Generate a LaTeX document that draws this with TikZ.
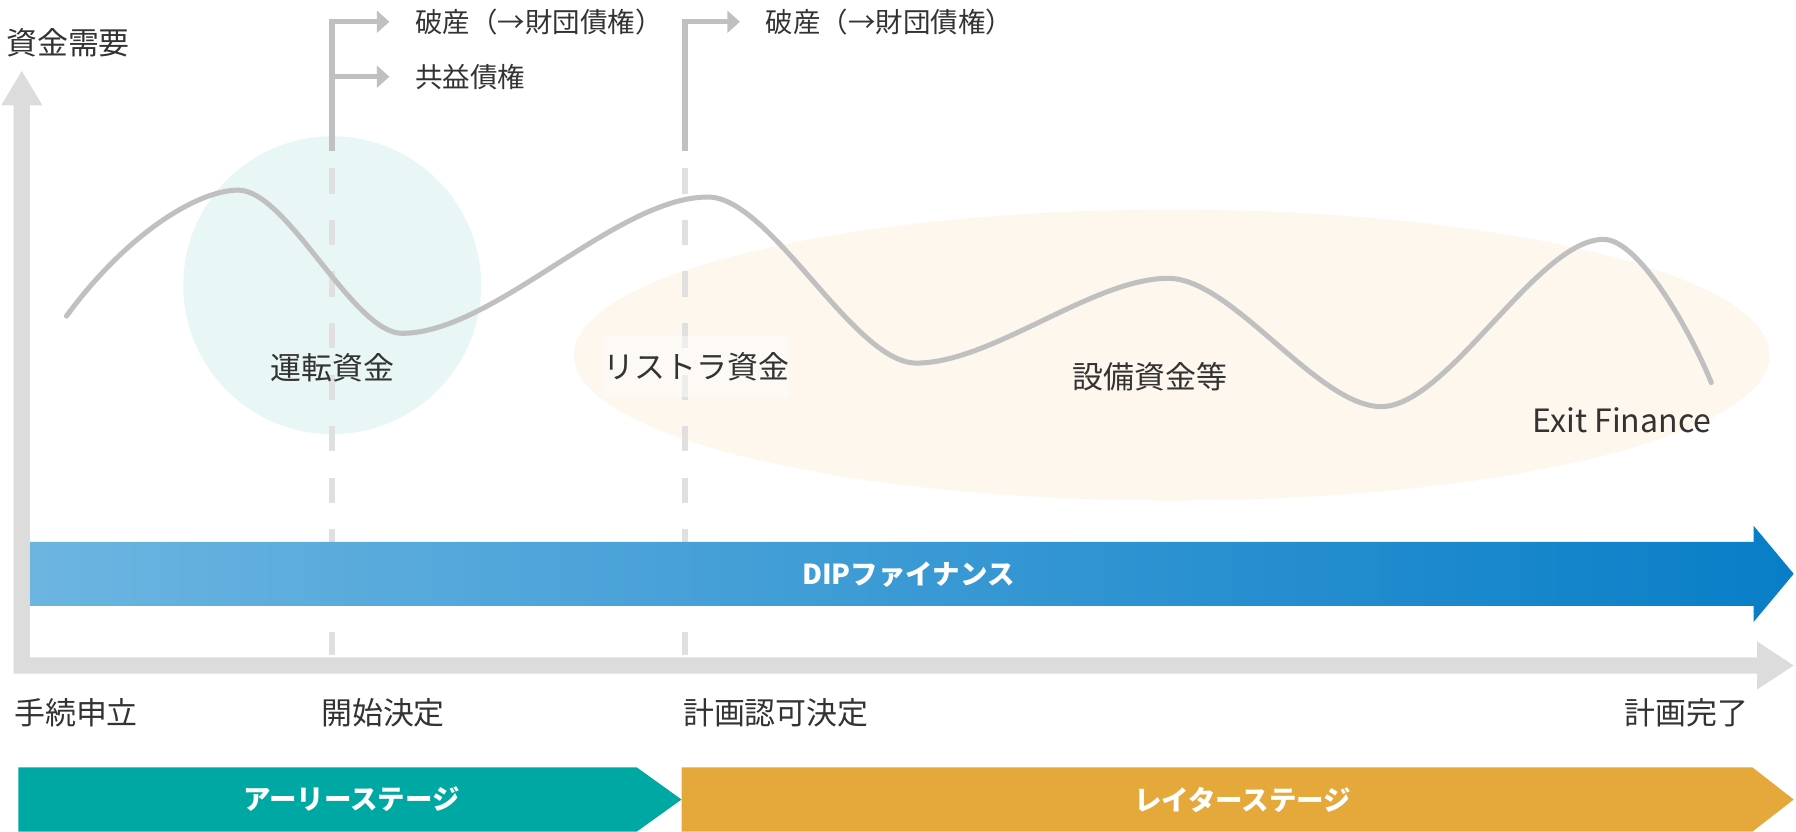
\documentclass[tikz,border=0pt]{standalone}
\usepackage{fontspec}
\setmainfont{Noto Sans CJK JP}
\usepackage{tikz}
\usetikzlibrary{arrows.meta}
\definecolor{axisGray}{RGB}{220,220,220}
\definecolor{lineGray}{RGB}{192,192,192}
\definecolor{dashGray}{RGB}{224,224,224}
\definecolor{txtGray}{RGB}{51,51,51}
\definecolor{circleTeal}{RGB}{232,246,245}
\definecolor{ovalCream}{RGB}{253,247,237}
\definecolor{dipLeft}{RGB}{108,181,225}
\definecolor{dipRight}{RGB}{8,126,199}
\definecolor{earlyTeal}{RGB}{0,168,164}
\definecolor{lateOrange}{RGB}{229,168,59}
\tikzset{
  lbl/.style={text=txtGray, font=\fontsize{13.5}{16}\selectfont, inner sep=0pt},
  branchlbl/.style={text=txtGray, font=\fontsize{12}{14}\selectfont, anchor=west, inner sep=0pt},
  bartxt/.style={text=white, font=\bfseries\fontsize{12}{14}\selectfont},
  branch/.style={lineGray, line width=2.35pt, shorten >=11pt, -{Triangle[width=9.5pt,length=5.5pt]}},
  guide/.style={dashGray, line width=2.4pt, dash pattern=on 11pt off 11.5pt},
}

\begin{document}
\begin{tikzpicture}[x=0.5pt,y=-0.5pt]
\useasboundingbox (0,0) rectangle (1568,726);
\fill[circleTeal] (290,249) circle (130);
\fill[ovalCream] (1023,310) ellipse (522 and 127);

\draw[guide] (290,147) -- (290,572);
\draw[guide] (598,147) -- (598,572);

\draw[lineGray, line width=2.2pt, line cap=round]
  (58,276) .. controls (110,205) and (172,166) .. (208,166)
  .. controls (251,166) and (308,291) .. (351,291)
  .. controls (431,291) and (538,172) .. (618,172)
  .. controls (673,172) and (745,317) .. (800,317)
  .. controls (866,317) and (954,243) .. (1020,243)
  .. controls (1076,243) and (1150,355) .. (1206,355)
  .. controls (1264,355) and (1342,209) .. (1400,209)
  .. controls (1432,209) and (1478,294) .. (1494,334);

\coordinate (v1) at (290,132);
\coordinate (v1m) at (290,67);
\coordinate (v2) at (598,132);
\node[branchlbl] (bank1) at (362,19) {破産（→財団債権）};
\node[branchlbl] (common) at (362,67) {共益債権};
\node[branchlbl] (bank2) at (668,19) {破産（→財団債権）};
\draw[branch] (v1) |- (bank1);
\draw[branch] (v1m) -- (common);
\draw[branch] (v2) |- (bank2);

\node[lbl] (working) at (290,321) {運転資金};
\node[lbl, fill=white, fill opacity=0.45, text opacity=1, minimum height=27pt] (restr) at (608,320) {リストラ資金};
\node[lbl] (equip) at (1004,329) {設備資金等};
\node[lbl, font=\fontsize{14}{16}\selectfont] (exitfin) at (1416,367) {Exit Finance};

\shade[left color=dipLeft, right color=dipRight] (26,473) -- (1531,473) -- (1531,459) -- (1566,501)
  -- (1531,543) -- (1531,529) -- (26,529) -- cycle;
\node[bartxt] (dip) at (793,502) {DIPファイナンス};

\fill[axisGray] (12,588) -- (12,92) -- (1,92) -- (19,62) -- (37,92) -- (26,92) -- (26,574)
  -- (1534,574) -- (1534,560) -- (1566,581) -- (1534,602) -- (1534,588) -- cycle;
\node[lbl, anchor=west] (demand) at (5,37) {資金需要};

\node[lbl, anchor=west] (filing) at (12,622) {手続申立};
\node[lbl, anchor=west] (commence) at (280,622) {開始決定};
\node[lbl, anchor=west] (confirm) at (596,622) {計画認可決定};
\node[lbl, anchor=east] (complete) at (1527,622) {計画完了};

\fill[earlyTeal] (16,670) -- (556,670) -- (595,698) -- (556,726) -- (16,726) -- cycle;
\fill[lateOrange] (595,670) -- (1530,670) -- (1566,698) -- (1530,726) -- (595,726) -- cycle;
\node[bartxt] (early) at (307,698) {アーリーステージ};
\node[bartxt] (late) at (1085,698) {レイターステージ};
\end{tikzpicture}
\end{document}
